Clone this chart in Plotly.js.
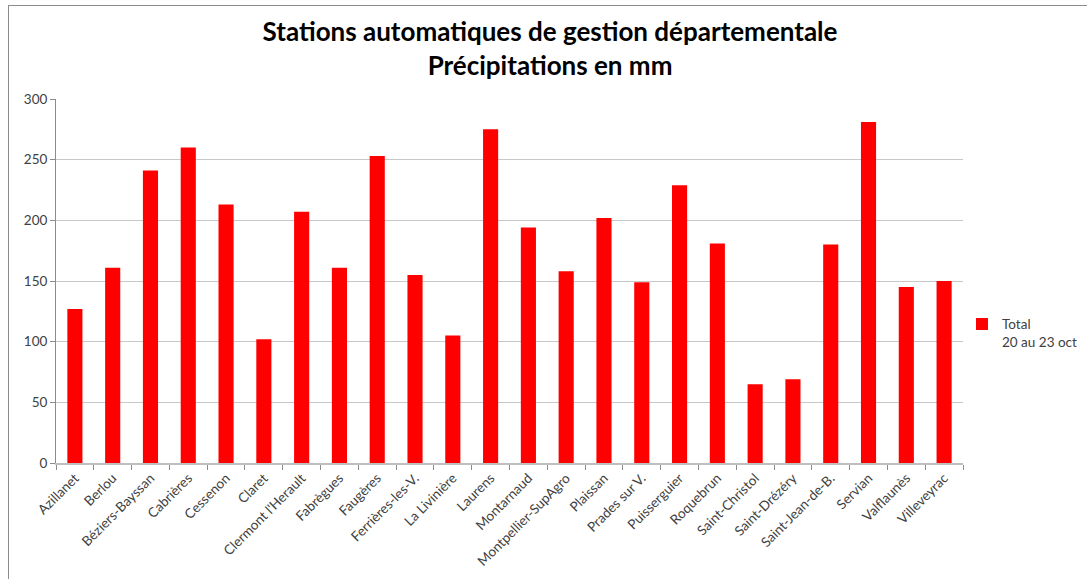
<!DOCTYPE html>
<html>
<head>
<meta charset="utf-8">
<script src="https://cdn.plot.ly/plotly-3.0.1.min.js"></script>
<style>
  html, body { margin: 0; padding: 0; background: #fff; overflow: hidden; }
  #wrap { position: relative; width: 1087px; height: 579px; overflow: hidden; }
  #chart { position: absolute; left: 0; top: 0; width: 1087px; height: 579px; }
  #frame { position: absolute; left: 8px; top: 5px; width: 1200px; height: 700px;
           border: 1px solid #8c8c8c; pointer-events: none; }
</style>
</head>
<body>
<div id="wrap">
  <div id="chart"></div>
  <div id="frame"></div>
</div>
<script>
const stations = [
  "Azillanet", "Berlou", "Béziers-Bayssan", "Cabrières", "Cessenon", "Claret",
  "Clermont l'Herault", "Fabrègues", "Faugères", "Ferrières-les-V.", "La Livinière",
  "Laurens", "Montarnaud", "Montpellier-SupAgro", "Plaissan", "Prades sur V.",
  "Puisserguier", "Roquebrun", "Saint-Christol", "Saint-Drézéry", "Saint-Jean-de-B.",
  "Servian", "Valflaunès", "Villeveyrac"
];
const totals = [
  127, 161, 241, 260, 213, 102,
  207, 161, 253, 155, 105,
  275, 194, 158, 202, 149,
  229, 181, 65, 69, 180,
  281, 145, 150
];
const seriesName = "Total<br>20 au 23 oct";
const titleText = "Stations automatiques de gestion départementale<br>Précipitations en mm";
const yTicks = [0, 50, 100, 150, 200, 250, 300];

const trace = {
  type: "bar",
  x: stations,
  y: totals,
  name: seriesName,
  marker: { color: "#ff0000", line: { width: 0 } },
  showlegend: true,
  hoverinfo: "x+y"
};

const layout = {
  width: 1087,
  height: 579,
  paper_bgcolor: "rgba(0,0,0,0)",
  plot_bgcolor: "#ffffff",
  margin: { l: 56, r: 124, t: 99, b: 116, pad: 0, autoexpand: false },
  font: { family: "Lato, 'Open Sans', sans-serif", color: "#404040", size: 13 },
  title: {
    text: titleText,
    font: { family: "Lato, 'Open Sans', sans-serif", size: 26, color: "#000000", weight: "bold" },
    x: 0.506, xref: "container", xanchor: "center",
    y: 0.929, yref: "container", yanchor: "middle"
  },
  bargap: 0.6,
  xaxis: {
    type: "category",
    tickangle: -45,
    tickson: "boundaries",
    ticks: "outside",
    ticklen: 5,
    tickcolor: "#8c8c8c",
    showline: true,
    linecolor: "#bfbfbf",
    linewidth: 2,
    showgrid: false,
    tickfont: { size: 13.5, color: "#404040" },
    automargin: false
  },
  yaxis: {
    range: [0, 300],
    tickvals: yTicks,
    ticks: "outside",
    ticklen: 5,
    tickcolor: "#8c8c8c",
    showline: true,
    linecolor: "#8c8c8c",
    linewidth: 1,
    showgrid: true,
    gridcolor: "#c8c8c8",
    gridwidth: 1,
    zeroline: false,
    tickfont: { size: 13.5, color: "#404040" },
    automargin: false
  },
  legend: {
    xref: "container", yref: "container",
    x: 0.885, xanchor: "left",
    y: 0.467, yanchor: "top",
    valign: "top",
    font: { size: 13.5, color: "#404040" },
    bgcolor: "rgba(0,0,0,0)",
    itemwidth: 30
  }
};

Plotly.newPlot("chart", [trace], layout, { displayModeBar: false, staticPlot: true });
</script>
</body>
</html>
